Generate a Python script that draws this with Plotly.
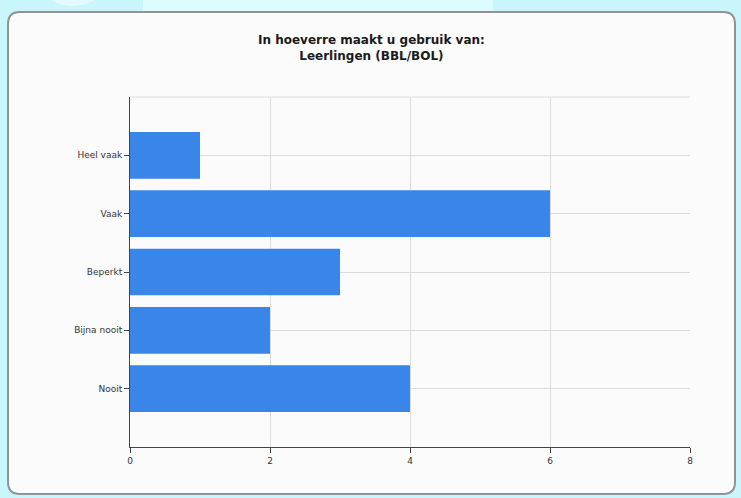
import plotly.graph_objects as go

categories = ["Nooit", "Bijna nooit", "Beperkt", "Vaak", "Heel vaak"]
values = [4, 2, 3, 6, 1]
x_ticks = [0, 2, 4, 6, 8]
title_lines = ["In hoeverre maakt u gebruik van:", "Leerlingen (BBL/BOL)"]

W, H = 741, 498
L, R, T, B = 130, 51, 97, 51
pw, ph = W - L - R, H - T - B

def px(x):
    return (x - L) / pw

def py(y):
    return (H - B - y) / ph

def rounded_path(x0, y0, x1, y1, r):
    rx, ry = r / pw, r / ph
    X0, X1 = px(x0), px(x1)
    Yt, Yb = py(y0), py(y1)
    return (f"M {X0+rx} {Yt} L {X1-rx} {Yt} Q {X1} {Yt} {X1} {Yt-ry} "
            f"L {X1} {Yb+ry} Q {X1} {Yb} {X1-rx} {Yb} L {X0+rx} {Yb} "
            f"Q {X0} {Yb} {X0} {Yb+ry} L {X0} {Yt-ry} Q {X0} {Yt} {X0+rx} {Yt} Z")

fig = go.Figure(go.Bar(
    x=values, y=categories, orientation="h",
    marker=dict(color="#3a86e8", line=dict(width=0)),
    width=0.8, hoverinfo="x+y",
))

shapes = [
    dict(type="rect", xref="paper", yref="paper", x0=px(143), x1=px(493), y0=py(0), y1=py(12),
         fillcolor="#ddfcfe", line=dict(width=0), layer="below"),
    dict(type="circle", xref="paper", yref="paper", x0=px(40), x1=px(105), y0=py(-40), y1=py(6),
         fillcolor="#e4fbfd", line=dict(width=0), layer="below"),
    dict(type="path", xref="paper", yref="paper", path=rounded_path(8, 12, 735, 494, 12),
         fillcolor="#fbfbfb", line=dict(color="#8f9396", width=2), layer="below"),
    dict(type="line", xref="paper", yref="paper", x0=0, x1=1, y0=1, y1=1,
         line=dict(color="#dcdcdc", width=1), layer="below"),
]

fig.update_layout(
    width=W, height=H,
    margin=dict(l=L, r=R, t=T, b=B),
    paper_bgcolor="#c8f6fa",
    plot_bgcolor="#fdfdfd",
    shapes=shapes,
    showlegend=False,
    annotations=[dict(
        text="<b>" + "<br>".join(title_lines) + "</b>",
        xref="paper", yref="paper", x=px(371), y=py(48),
        xanchor="center", yanchor="middle", showarrow=False,
        font=dict(family="DejaVu Sans", size=12, color="#1a1a1a"),
    )],
    xaxis=dict(
        range=[0, 8], tickvals=x_ticks, ticktext=[str(v) for v in x_ticks],
        showgrid=True, gridcolor="#dcdcdc", gridwidth=1,
        showline=True, linecolor="#444444", linewidth=1,
        ticks="outside", ticklen=5, tickcolor="#444444",
        tickfont=dict(family="DejaVu Sans", size=9, color="#333333"),
        zeroline=False, fixedrange=True,
    ),
    yaxis=dict(
        categoryorder="array", categoryarray=categories,
        range=[-1, 5],
        showgrid=True, gridcolor="#dcdcdc", gridwidth=1,
        showline=True, linecolor="#444444", linewidth=1,
        ticks="outside", ticklen=5, tickcolor="#444444",
        tickfont=dict(family="DejaVu Sans", size=9, color="#333333"),
        zeroline=False, fixedrange=True,
    ),
)

fig.write_html(
    "out.html",
    config={"displayModeBar": False},
    post_script="document.body.style.margin='0';document.body.style.overflow='hidden';",
)
